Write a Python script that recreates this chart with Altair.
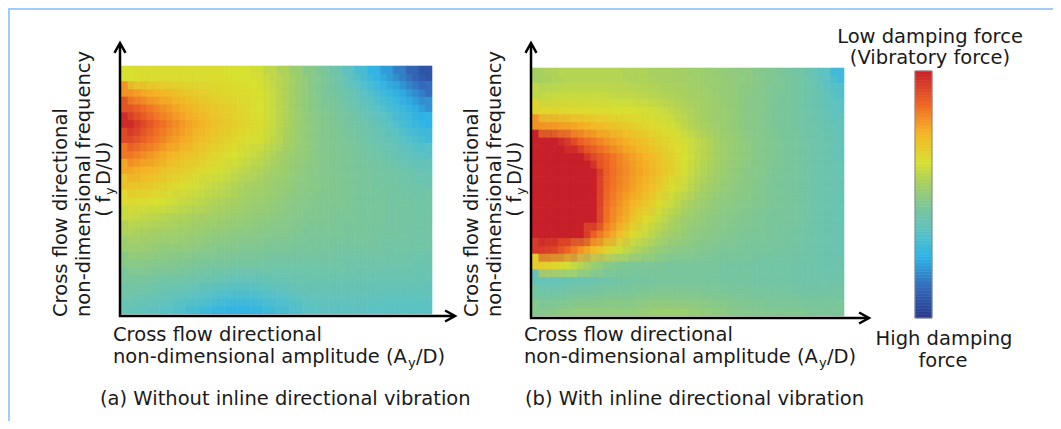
import altair as alt
import pandas as pd

# ---------------- data ----------------
# value 0 = high damping force (blue) ... 1 = low damping / vibratory force (red)
# 16 rows (top -> bottom, frequency high -> low) x 24 columns (amplitude low -> high)
FIELD_A = [
    [0.63, 0.64, 0.64, 0.64, 0.64, 0.64, 0.64, 0.64, 0.63, 0.63, 0.62, 0.59, 0.56, 0.52, 0.48, 0.45, 0.41, 0.36, 0.31, 0.26, 0.21, 0.16, 0.11, 0.07],
    [0.80, 0.77, 0.75, 0.73, 0.71, 0.69, 0.67, 0.66, 0.65, 0.64, 0.63, 0.60, 0.56, 0.52, 0.48, 0.45, 0.42, 0.39, 0.35, 0.31, 0.27, 0.23, 0.18, 0.13],
    [0.90, 0.86, 0.82, 0.79, 0.76, 0.73, 0.71, 0.69, 0.67, 0.65, 0.63, 0.60, 0.56, 0.52, 0.48, 0.46, 0.44, 0.41, 0.38, 0.35, 0.31, 0.28, 0.24, 0.19],
    [0.98, 0.92, 0.87, 0.83, 0.79, 0.76, 0.73, 0.70, 0.68, 0.66, 0.64, 0.60, 0.56, 0.52, 0.49, 0.47, 0.45, 0.43, 0.41, 0.38, 0.35, 0.31, 0.28, 0.25],
    [0.92, 0.88, 0.84, 0.80, 0.77, 0.74, 0.71, 0.68, 0.66, 0.64, 0.62, 0.59, 0.55, 0.52, 0.49, 0.47, 0.46, 0.44, 0.42, 0.40, 0.38, 0.35, 0.32, 0.29],
    [0.84, 0.81, 0.78, 0.75, 0.72, 0.70, 0.67, 0.65, 0.63, 0.61, 0.59, 0.56, 0.53, 0.51, 0.49, 0.47, 0.46, 0.45, 0.43, 0.42, 0.40, 0.38, 0.36, 0.34],
    [0.77, 0.75, 0.73, 0.70, 0.68, 0.66, 0.64, 0.62, 0.60, 0.58, 0.56, 0.54, 0.52, 0.50, 0.48, 0.47, 0.46, 0.45, 0.44, 0.43, 0.42, 0.41, 0.39, 0.38],
    [0.71, 0.70, 0.68, 0.66, 0.64, 0.62, 0.60, 0.59, 0.57, 0.55, 0.54, 0.52, 0.51, 0.49, 0.48, 0.47, 0.46, 0.45, 0.44, 0.43, 0.43, 0.42, 0.41, 0.40],
    [0.65, 0.64, 0.63, 0.62, 0.60, 0.59, 0.57, 0.56, 0.55, 0.53, 0.52, 0.51, 0.49, 0.48, 0.47, 0.46, 0.46, 0.45, 0.44, 0.44, 0.43, 0.43, 0.42, 0.42],
    [0.60, 0.59, 0.58, 0.57, 0.56, 0.55, 0.54, 0.53, 0.52, 0.51, 0.50, 0.49, 0.48, 0.47, 0.46, 0.46, 0.45, 0.45, 0.44, 0.44, 0.43, 0.43, 0.43, 0.42],
    [0.56, 0.55, 0.54, 0.54, 0.53, 0.52, 0.51, 0.50, 0.49, 0.49, 0.48, 0.47, 0.47, 0.46, 0.45, 0.45, 0.45, 0.44, 0.44, 0.43, 0.43, 0.43, 0.42, 0.42],
    [0.52, 0.52, 0.51, 0.50, 0.50, 0.49, 0.48, 0.47, 0.47, 0.46, 0.46, 0.45, 0.45, 0.44, 0.44, 0.44, 0.43, 0.43, 0.43, 0.43, 0.42, 0.42, 0.42, 0.42],
    [0.48, 0.48, 0.47, 0.47, 0.46, 0.45, 0.44, 0.44, 0.43, 0.43, 0.43, 0.42, 0.42, 0.42, 0.42, 0.42, 0.42, 0.41, 0.41, 0.41, 0.41, 0.41, 0.40, 0.40],
    [0.44, 0.44, 0.43, 0.42, 0.42, 0.41, 0.40, 0.39, 0.38, 0.38, 0.38, 0.39, 0.39, 0.40, 0.40, 0.40, 0.40, 0.40, 0.39, 0.39, 0.39, 0.39, 0.39, 0.39],
    [0.41, 0.40, 0.39, 0.38, 0.37, 0.36, 0.34, 0.33, 0.32, 0.32, 0.33, 0.34, 0.35, 0.37, 0.38, 0.38, 0.38, 0.38, 0.38, 0.37, 0.37, 0.37, 0.37, 0.37],
    [0.38, 0.37, 0.36, 0.35, 0.33, 0.31, 0.29, 0.27, 0.26, 0.26, 0.27, 0.29, 0.31, 0.33, 0.35, 0.36, 0.36, 0.36, 0.36, 0.35, 0.35, 0.35, 0.35, 0.35],
]
FIELD_B = [
    [0.55, 0.56, 0.57, 0.57, 0.57, 0.57, 0.57, 0.56, 0.56, 0.55, 0.55, 0.54, 0.53, 0.52, 0.51, 0.50, 0.49, 0.47, 0.46, 0.44, 0.42, 0.39, 0.35, 0.29],
    [0.59, 0.60, 0.60, 0.60, 0.60, 0.60, 0.59, 0.59, 0.58, 0.57, 0.56, 0.55, 0.54, 0.53, 0.51, 0.50, 0.48, 0.47, 0.45, 0.44, 0.42, 0.40, 0.37, 0.33],
    [0.66, 0.66, 0.65, 0.65, 0.64, 0.64, 0.63, 0.63, 0.62, 0.61, 0.59, 0.57, 0.55, 0.53, 0.52, 0.50, 0.48, 0.47, 0.45, 0.44, 0.42, 0.40, 0.38, 0.35],
    [0.80, 0.79, 0.78, 0.76, 0.74, 0.72, 0.70, 0.68, 0.66, 0.64, 0.62, 0.59, 0.56, 0.54, 0.52, 0.50, 0.48, 0.47, 0.45, 0.44, 0.42, 0.41, 0.39, 0.37],
    [1.00, 1.00, 0.95, 0.88, 0.84, 0.80, 0.77, 0.74, 0.71, 0.68, 0.65, 0.62, 0.59, 0.56, 0.53, 0.51, 0.49, 0.47, 0.46, 0.44, 0.43, 0.41, 0.40, 0.38],
    [1.00, 1.00, 1.00, 1.00, 0.92, 0.87, 0.82, 0.78, 0.75, 0.71, 0.67, 0.63, 0.59, 0.56, 0.53, 0.51, 0.49, 0.47, 0.46, 0.44, 0.43, 0.41, 0.40, 0.38],
    [1.00, 1.00, 1.00, 1.00, 1.00, 0.88, 0.83, 0.79, 0.76, 0.72, 0.67, 0.62, 0.58, 0.55, 0.52, 0.50, 0.48, 0.47, 0.45, 0.44, 0.43, 0.41, 0.40, 0.39],
    [1.00, 1.00, 1.00, 1.00, 1.00, 0.87, 0.82, 0.78, 0.74, 0.69, 0.64, 0.60, 0.56, 0.53, 0.51, 0.49, 0.48, 0.46, 0.45, 0.44, 0.43, 0.41, 0.40, 0.39],
    [1.00, 1.00, 1.00, 1.00, 1.00, 0.86, 0.80, 0.75, 0.70, 0.65, 0.60, 0.56, 0.53, 0.51, 0.49, 0.48, 0.47, 0.46, 0.45, 0.44, 0.43, 0.41, 0.40, 0.39],
    [1.00, 1.00, 1.00, 1.00, 1.00, 0.85, 0.78, 0.71, 0.65, 0.60, 0.56, 0.53, 0.51, 0.49, 0.48, 0.47, 0.46, 0.45, 0.44, 0.44, 0.43, 0.41, 0.40, 0.39],
    [1.00, 1.00, 1.00, 1.00, 0.88, 0.80, 0.72, 0.65, 0.60, 0.56, 0.53, 0.51, 0.49, 0.48, 0.47, 0.46, 0.45, 0.45, 0.44, 0.43, 0.42, 0.41, 0.40, 0.39],
    [0.95, 0.93, 0.87, 0.80, 0.73, 0.67, 0.61, 0.57, 0.54, 0.51, 0.49, 0.48, 0.47, 0.46, 0.45, 0.45, 0.44, 0.44, 0.43, 0.43, 0.42, 0.41, 0.40, 0.39],
    [0.68, 0.66, 0.62, 0.57, 0.52, 0.48, 0.46, 0.45, 0.45, 0.45, 0.44, 0.44, 0.44, 0.44, 0.43, 0.43, 0.43, 0.42, 0.42, 0.42, 0.41, 0.41, 0.40, 0.40],
    [0.38, 0.38, 0.39, 0.39, 0.40, 0.41, 0.42, 0.43, 0.43, 0.44, 0.44, 0.44, 0.44, 0.44, 0.43, 0.43, 0.43, 0.42, 0.42, 0.42, 0.41, 0.41, 0.41, 0.41],
    [0.43, 0.43, 0.44, 0.45, 0.45, 0.46, 0.46, 0.46, 0.47, 0.47, 0.47, 0.47, 0.47, 0.46, 0.46, 0.45, 0.45, 0.44, 0.44, 0.44, 0.43, 0.43, 0.43, 0.43],
    [0.47, 0.48, 0.49, 0.50, 0.50, 0.50, 0.50, 0.50, 0.51, 0.52, 0.52, 0.52, 0.51, 0.50, 0.49, 0.48, 0.47, 0.47, 0.46, 0.46, 0.46, 0.45, 0.45, 0.45],
]

COLOR_STOPS = [0.0, 0.12, 0.25, 0.35, 0.45, 0.55, 0.63, 0.75, 0.87, 1.0]
COLOR_RANGE = ["#283a8c", "#3468b8", "#2eb4e6", "#5cc2c4", "#7cc698",
               "#a8d060", "#d8e030", "#f5b425", "#ee6424", "#c8202a"]
# colour key: levels from high damping (0) to low damping (1)
KEY_STEPS = 80
KEY_LEVELS = [i / KEY_STEPS for i in range(KEY_STEPS)]

Y_TITLE_1 = "Cross flow directional"
Y_TITLE_2 = "non-dimensional frequency"
Y_TITLE_3 = ["( f", "y", "D/U)"]
X_TITLE_1 = "Cross flow directional"
X_TITLE_2 = ["non-dimensional amplitude (A", "y", "/D)"]
CAPTION_A = "(a) Without inline directional vibration"
CAPTION_B = "(b) With inline directional vibration"
LEGEND_TOP = ["Low damping force", "(Vibratory force)"]
LEGEND_BOTTOM = ["High damping", "force"]

FONT = "DejaVu Sans"
FS = 19.5
SUB = 13
TXT = "#1a1a1a"
BORDER = "#9fcdfb"

NCOL = len(FIELD_A[0])
NROW = len(FIELD_A)


def grid_df(rows, shift=0.0):
    recs = []
    for r, row in enumerate(rows):
        for c, v in enumerate(row):
            if shift and (r == NROW - 1 or c == NCOL - 1):
                continue
            recs.append({"c0": c + shift, "c1": c + 1 + shift,
                         "r0": r + shift, "r1": r + 1 + shift, "v": v})
    return pd.DataFrame(recs)


color_scale = alt.Scale(domain=COLOR_STOPS, range=COLOR_RANGE, interpolate="rgb", clamp=True)


def heat(rows, xr, yr, shift=0.0, opacity=1.0):
    df = grid_df(rows, shift)
    return alt.Chart(df).mark_rect(strokeWidth=0.6 if opacity == 1.0 else 0, opacity=opacity).encode(
        x=alt.X("c0:Q", scale=alt.Scale(domain=[0, NCOL], range=xr, nice=False, zero=False), axis=None),
        x2="c1:Q",
        y=alt.Y("r0:Q", scale=alt.Scale(domain=[0, NROW], range=yr, nice=False, zero=False), axis=None),
        y2="r1:Q",
        color=alt.Color("v:Q", scale=color_scale, legend=None),
        stroke=alt.Stroke("v:Q", scale=color_scale, legend=None),
    )


one = alt.Data(values=[{"k": 0}])


def colour_key(xr, yr):
    step = 1 / KEY_STEPS
    df = pd.DataFrame({"v": KEY_LEVELS, "v2": [v + step for v in KEY_LEVELS]})
    df["mid"] = df["v"] + step / 2
    bar = alt.Chart(df).mark_rect(strokeWidth=0.6).encode(
        x=alt.value(xr[0]), x2=alt.value(xr[1]),
        y=alt.Y("v:Q", scale=alt.Scale(domain=[0, 1], range=[yr[1], yr[0]], nice=False, zero=False), axis=None),
        y2="v2:Q",
        color=alt.Color("mid:Q", scale=color_scale, legend=None),
        stroke=alt.Stroke("mid:Q", scale=color_scale, legend=None),
    )
    frame = alt.Chart(one).mark_rect(fill=None, stroke="#8a8a8a", strokeWidth=1).encode(
        x=alt.value(xr[0]), x2=alt.value(xr[1]), y=alt.value(yr[0]), y2=alt.value(yr[1]))
    return [bar, frame]


def rule(x, y, x2=None, y2=None, color="black", width=2.5):
    enc = {"x": alt.value(x), "y": alt.value(y)}
    if x2 is not None:
        enc["x2"] = alt.value(x2)
    if y2 is not None:
        enc["y2"] = alt.value(y2)
    return alt.Chart(one).mark_rule(color=color, strokeWidth=width).encode(**enc)


UP = "M -1 1.8 L 0 0 L 1 1.8"
RIGHT = "M -1.8 -1 L 0 0 L -1.8 1"


def head(x, y, shape):
    return alt.Chart(one).mark_point(shape=shape, filled=False, color="black", opacity=1,
                                     strokeWidth=2.5, size=121).encode(
        x=alt.value(x), y=alt.value(y))


def txt(s, x, y, size=FS, align="left", baseline="middle", angle=0):
    kw = dict(font=FONT, fontSize=size, align=align, baseline=baseline, color=TXT)
    if angle:
        kw["angle"] = angle
    return alt.Chart(one).mark_text(**kw).encode(x=alt.value(x), y=alt.value(y), text=alt.value(s))


def y_title(xs, xsub):
    return [
        txt(Y_TITLE_1, xs[0], 309, angle=270),
        txt(Y_TITLE_2, xs[1], 309, angle=270),
        txt(Y_TITLE_3[0], xs[2], 188, align="right", angle=270),
        txt(Y_TITLE_3[1], xsub, 187, size=SUB, angle=270),
        txt(Y_TITLE_3[2], xs[2], 177, angle=270),
    ]


def x_title(x0):
    return [
        txt(X_TITLE_1, x0, 327),
        txt(X_TITLE_2[0], x0, 349),
        txt(X_TITLE_2[1], x0 + 295, 355, size=SUB),
        txt(X_TITLE_2[2], x0 + 303, 349),
    ]


AX_A, AY_A = [113, 424], [58, 306]
AX_B, AY_B = [524, 836], [60, 308]

layers = [
    rule(0, 0.5, x2=1053, color=BORDER, width=3),
    rule(0.5, 0, y2=421, color=BORDER, width=3),
    heat(FIELD_A, AX_A, AY_A),
    heat(FIELD_A, AX_A, AY_A, shift=0.5, opacity=0.5),
    heat(FIELD_B, AX_B, AY_B),
    heat(FIELD_B, AX_B, AY_B, shift=0.5, opacity=0.5),
]
layers += colour_key([907, 924], [63, 310])
layers += [
    # panel a axes
    rule(112, 36, y2=309),
    rule(111, 308, x2=446),
    head(112, 35, UP),
    head(447, 308, RIGHT),
    # panel b axes
    rule(523, 36, y2=311),
    rule(522, 310, x2=860),
    head(523, 35, UP),
    head(861, 310, RIGHT),
]
layers += y_title([53, 76, 96], 102)
layers += y_title([464, 487, 507], 513)
layers += x_title(105)
layers += x_title(516)
layers += [
    txt(CAPTION_A, 92, 391),
    txt(CAPTION_B, 517, 391),
    txt(LEGEND_TOP[0], 922, 35, align="center", baseline="alphabetic"),
    txt(LEGEND_TOP[1], 922, 56, align="center", baseline="alphabetic"),
    txt(LEGEND_BOTTOM[0], 936, 337, align="center", baseline="alphabetic"),
    txt(LEGEND_BOTTOM[1], 935, 359, align="center", baseline="alphabetic"),
]

chart = alt.layer(*layers).resolve_scale(
    x="independent", y="independent"
).properties(
    width=1045, height=413, padding=0,
    autosize=alt.AutoSizeParams(type="none"),
    background="white",
).configure_view(stroke=None)

chart.save("out.html", embed_options={"renderer": "svg", "actions": False})
